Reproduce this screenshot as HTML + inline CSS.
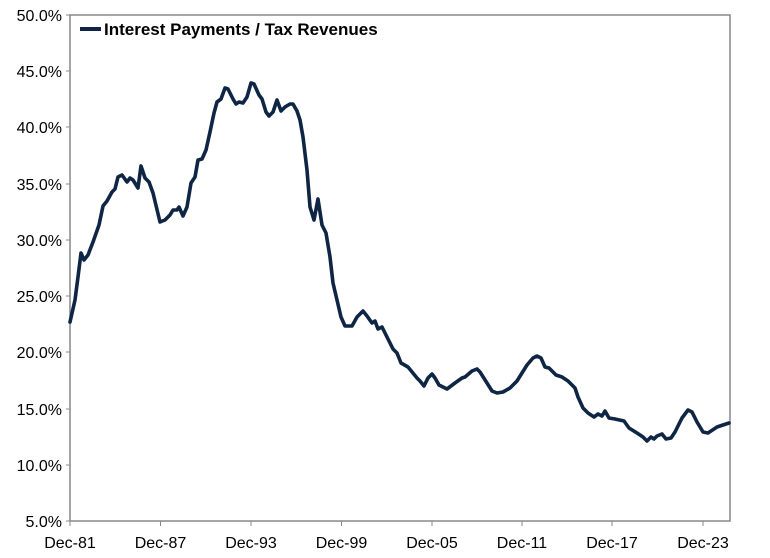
<!DOCTYPE html>
<html><head><meta charset="utf-8"><style>
body{margin:0;background:#fff;}
svg{display:block;font-family:"Liberation Sans",Arial,sans-serif;}
</style></head><body>
<svg width="770" height="558" viewBox="0 0 770 558">
<rect x="70" y="15" width="660" height="506" fill="none" stroke="#888" stroke-width="1.5"/>
<g stroke="#888" stroke-width="1">
<line x1="66" y1="15" x2="70" y2="15"/><line x1="66" y1="71" x2="70" y2="71"/><line x1="66" y1="127" x2="70" y2="127"/><line x1="66" y1="184" x2="70" y2="184"/><line x1="66" y1="240" x2="70" y2="240"/><line x1="66" y1="296" x2="70" y2="296"/><line x1="66" y1="352" x2="70" y2="352"/><line x1="66" y1="409" x2="70" y2="409"/><line x1="66" y1="465" x2="70" y2="465"/><line x1="66" y1="521" x2="70" y2="521"/>
<line x1="70" y1="521" x2="70" y2="526"/><line x1="160.5" y1="521" x2="160.5" y2="526"/><line x1="251" y1="521" x2="251" y2="526"/><line x1="341.5" y1="521" x2="341.5" y2="526"/><line x1="432" y1="521" x2="432" y2="526"/><line x1="522" y1="521" x2="522" y2="526"/><line x1="612" y1="521" x2="612" y2="526"/><line x1="703" y1="521" x2="703" y2="526"/>
</g>
<g font-size="16" fill="#000" text-anchor="end">
<text x="62" y="21">50.0%</text><text x="62" y="77">45.0%</text><text x="62" y="133">40.0%</text><text x="62" y="190">35.0%</text><text x="62" y="246">30.0%</text><text x="62" y="302">25.0%</text><text x="62" y="358">20.0%</text><text x="62" y="415">15.0%</text><text x="62" y="471">10.0%</text><text x="62" y="527">5.0%</text>
</g>
<g font-size="16" fill="#000" text-anchor="middle">
<text x="70" y="548">Dec-81</text><text x="160.5" y="548">Dec-87</text><text x="251" y="548">Dec-93</text><text x="341.5" y="548">Dec-99</text><text x="432" y="548">Dec-05</text><text x="522" y="548">Dec-11</text><text x="612" y="548">Dec-17</text><text x="703" y="548">Dec-23</text>
</g>
<line x1="80" y1="29" x2="101" y2="29" stroke="#0f2544" stroke-width="4"/>
<text x="104" y="35" font-size="17" font-weight="bold" fill="#000">Interest Payments / Tax Revenues</text>
<polyline fill="none" stroke="#0f2544" stroke-width="3.6" stroke-linejoin="round" stroke-linecap="round" points="
70,322 75,300 78,277 81,253 84,260 88,255 93,242 99,225 103,206 107,201 112,192 115,189 118,177 122,175 127,182 130,178 133,180 138,188 141,166 145,178 149,182 153,193 160,222 165,220 170,215 173,210 177,210 179,207 183,216 187,207 191,183 195,177 198,160 202,159 206,150 210,132 214,113 217,102 221,99 225,88 228,89 233,99 236,104 239,102 243,103 247,97 251,83 254,84 259,95 262,99 266,112 269,116 273,112 277,100 281,111 285,107 290,104 293,104 297,111 300,120 303,137 307,170 310,207 314,220 318,199 322,225 326,233 330,257 333,283 337,300 341,317 345,326 352,326 357,317 363,311 367,316 372,323 375,321 378,329 382,327 387,337 393,349 397,353 401,363 408,367 417,378 420,381 424,386 428,378 432,374 435,378 439,385 447,389 455,383 462,378 465,377 472,371 477,369 480,372 487,383 492,391 497,393 503,392 510,388 517,381 527,365 533,358 537,356 541,358 545,367 549,368 556,375 562,377 568,381 575,388 578,397 583,408 588,413 594,417 598,414 602,416 605,411 609,418 615,419 624,421 629,428 637,433 643,437 647,441 651,437 654,439 657,436 662,434 666,439 671,438 675,432 682,418 688,410 692,412 697,422 703,432 708,433 717,427 723,425 729,423"/>
</svg>
</body></html>
